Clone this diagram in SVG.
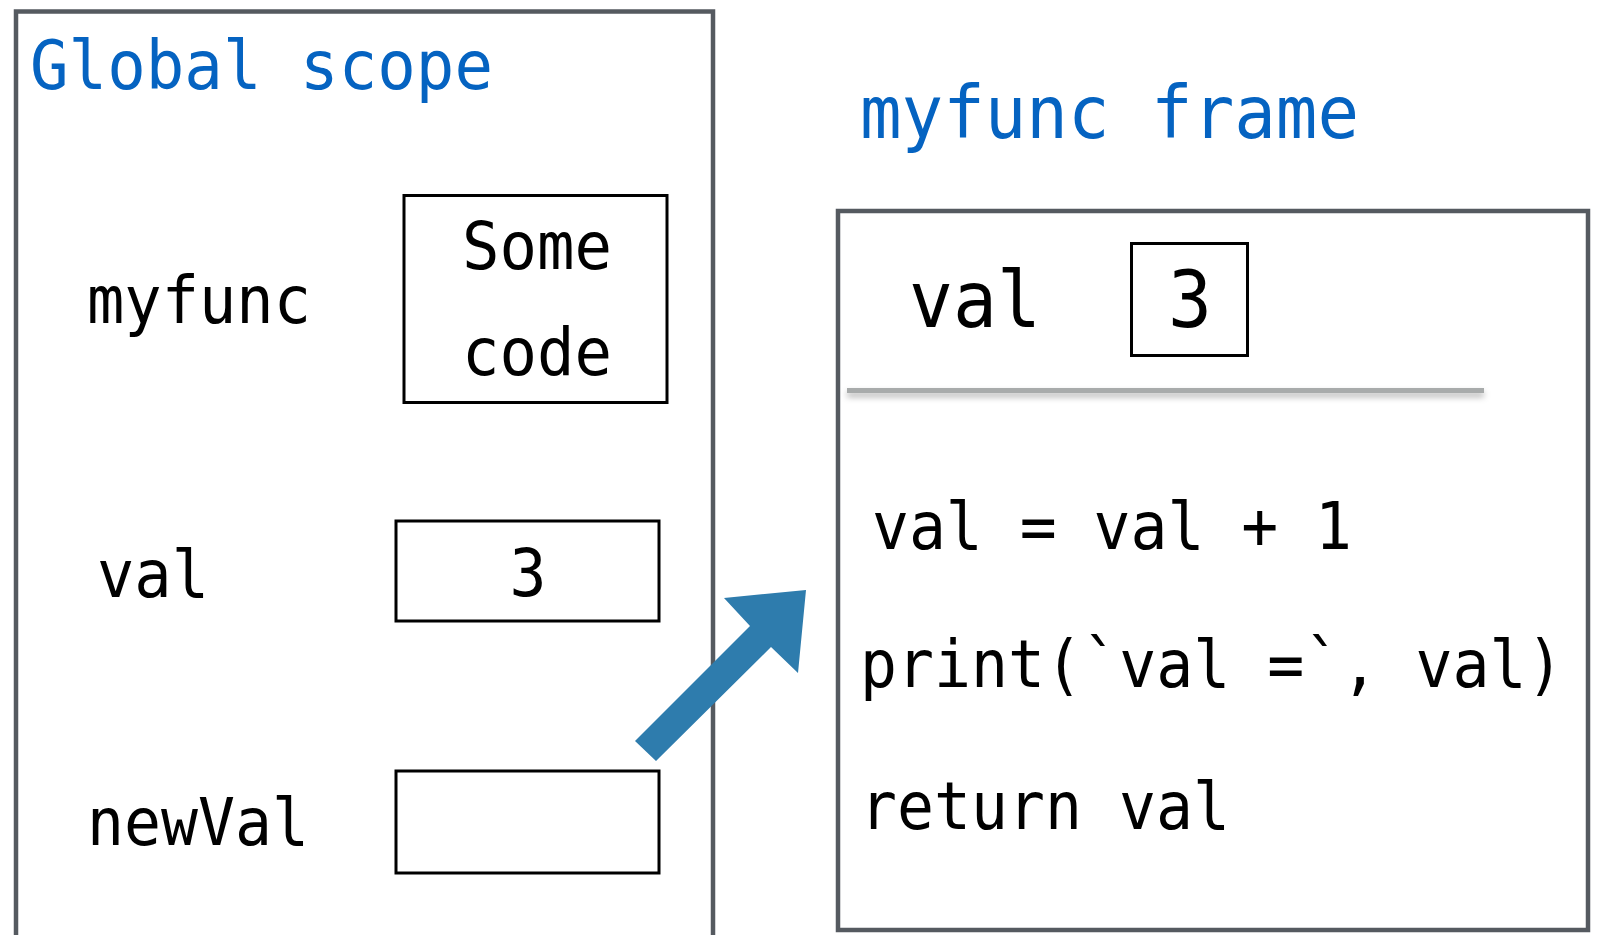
<svg xmlns="http://www.w3.org/2000/svg" width="1602" height="935" viewBox="0 0 1602 935">
  <style>
    .frame { fill: none; stroke: #555a60; stroke-width: 4.5; }
    .cell { fill: #fff; stroke: #000; stroke-width: 3; }
    .mono { font-family: "DejaVu Sans Mono", "Liberation Mono", monospace; }
    .title { fill: #0563c1; }
    .code { fill: #000; font-size: 66px; }
    .big { fill: #000; font-size: 78px; }
    .arrow { fill: #2e7cad; }
  </style>
  <defs>
    <filter id="lineShadow" filterUnits="userSpaceOnUse" x="830" y="370" width="680" height="50">
      <feDropShadow dx="0" dy="4" stdDeviation="3" flood-color="#000" flood-opacity="0.3"/>
    </filter>
  </defs>

  <rect width="1602" height="935" fill="#fff"/>

  <!-- Global scope frame -->
  <g id="global-scope">
    <rect class="frame" x="16" y="11.5" width="697" height="960"/>
    <text class="mono title" x="30" y="89" font-size="67" textLength="463" lengthAdjust="spacingAndGlyphs">Global scope</text>
  </g>

  <g id="global-myfunc">
    <text class="mono code" x="87" y="323" textLength="224" lengthAdjust="spacingAndGlyphs">myfunc</text>
    <rect class="cell" x="404" y="195.5" width="263" height="207"/>
    <text class="mono code" x="537" y="269" text-anchor="middle" textLength="150" lengthAdjust="spacingAndGlyphs">Some</text>
    <text class="mono code" x="537" y="375" text-anchor="middle" textLength="150" lengthAdjust="spacingAndGlyphs">code</text>
  </g>

  <g id="global-val">
    <text class="mono code" x="97" y="597" textLength="112" lengthAdjust="spacingAndGlyphs">val</text>
    <rect class="cell" x="396" y="521" width="263" height="100"/>
    <text class="mono code" x="528" y="596" text-anchor="middle" textLength="37" lengthAdjust="spacingAndGlyphs">3</text>
  </g>

  <g id="global-newVal">
    <text class="mono code" x="87" y="845" textLength="222" lengthAdjust="spacingAndGlyphs">newVal</text>
    <rect class="cell" x="396" y="771" width="263" height="102"/>
  </g>

  <!-- myfunc call frame -->
  <g id="myfunc-frame">
    <text class="mono title" x="860" y="138" font-size="73" textLength="499" lengthAdjust="spacingAndGlyphs">myfunc frame</text>
    <rect class="frame" x="838" y="211" width="750" height="719"/>
  </g>

  <g id="local-val">
    <text class="mono big" x="909" y="327" textLength="132" lengthAdjust="spacingAndGlyphs">val</text>
    <rect class="cell" x="1131.5" y="243.5" width="116" height="112"/>
    <text class="mono big" x="1190" y="327" text-anchor="middle" textLength="44" lengthAdjust="spacingAndGlyphs">3</text>
    <rect x="847" y="388" width="637" height="5" fill="#a8abab" filter="url(#lineShadow)"/>
  </g>

  <g id="function-body">
    <text class="mono code" x="872" y="549" textLength="480" lengthAdjust="spacingAndGlyphs">val = val + 1</text>
    <text class="mono code" transform="translate(860,687) scale(0.932,1)" x="0" y="0">print(`val =`, val)</text>
    <text class="mono code" x="860" y="829" textLength="370" lengthAdjust="spacingAndGlyphs">return val</text>
  </g>

  <!-- call arrow from the global scope into the frame -->
  <g id="connectors">
    <polygon class="arrow" points="635,741 750,626 724,598 806,590 798,673 771,647 656,761"/>
  </g>
</svg>
